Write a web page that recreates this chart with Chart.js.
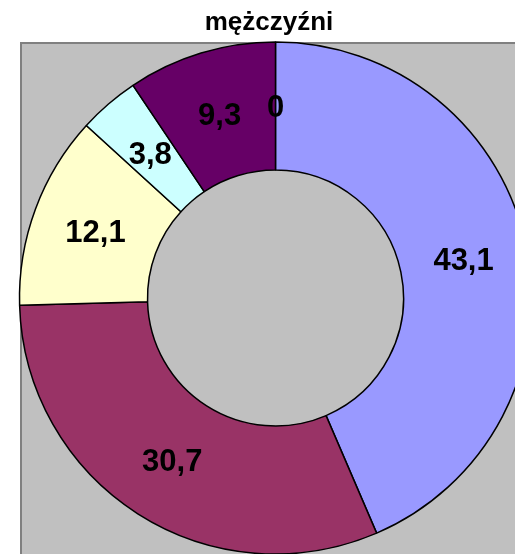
<!DOCTYPE html>
<html><head><meta charset="utf-8">
<script src="https://cdn.jsdelivr.net/npm/chart.js@4"></script>
<style>html,body{margin:0;padding:0;background:#fff;overflow:hidden}canvas{display:block}</style>
</head><body>
<canvas id="c" width="515" height="554"></canvas>
<script>
const chartTitle = 'mężczyźni';
const categories = ['kategoria 1', 'kategoria 2', 'kategoria 3', 'kategoria 4', 'kategoria 5', 'kategoria 6'];
const values = [43.1, 30.7, 12.1, 3.8, 9.3, 0];
const valueLabels = ['43,1', '30,7', '12,1', '3,8', '9,3', '0'];
const colors = ['#9999FF', '#993366', '#FFFFCC', '#CCFFFF', '#660066', '#FF8080'];

const FONT = '"Liberation Sans", Arial, sans-serif';

const bgPlugin = {
  id: 'bg',
  beforeDraw(chart) {
    const ctx = chart.ctx;
    ctx.save();
    ctx.fillStyle = '#ffffff';
    ctx.fillRect(0, 0, chart.width, chart.height);
    ctx.fillStyle = '#C0C0C0';
    ctx.fillRect(20, 42, chart.width, chart.height);
    ctx.strokeStyle = '#808080';
    ctx.lineWidth = 2;
    ctx.beginPath();
    ctx.moveTo(21, chart.height + 2);
    ctx.lineTo(21, 43);
    ctx.lineTo(chart.width + 2, 43);
    ctx.stroke();
    ctx.fillStyle = '#000';
    ctx.font = 'bold 26px ' + FONT;
    ctx.textAlign = 'center';
    ctx.textBaseline = 'alphabetic';
    ctx.fillText(chartTitle, 269, 30);
    ctx.restore();
  }
};

const labelPlugin = {
  id: 'vlabels',
  afterDatasetsDraw(chart) {
    const ctx = chart.ctx;
    const meta = chart.getDatasetMeta(0);
    const fs = 31;
    ctx.save();
    ctx.font = 'bold ' + fs + 'px ' + FONT;
    ctx.fillStyle = '#000';
    ctx.textAlign = 'center';
    ctx.textBaseline = 'alphabetic';
    meta.data.forEach((arc, i) => {
      const p = arc.getProps(['x', 'y', 'startAngle', 'endAngle', 'innerRadius', 'outerRadius'], true);
      const mid = (p.startAngle + p.endAngle) / 2;
      const r = (p.innerRadius + p.outerRadius) / 2;
      const x = p.x + r * Math.cos(mid);
      const y = p.y + r * Math.sin(mid);
      ctx.fillText(valueLabels[i], x, y + 0.358 * fs);
    });
    ctx.restore();
  }
};

new Chart(document.getElementById('c'), {
  type: 'doughnut',
  data: {
    labels: categories,
    datasets: [{
      data: values,
      backgroundColor: colors,
      borderColor: '#000000',
      borderWidth: 1.5,
      radius: 256,
      cutout: '50%'
    }]
  },
  options: {
    responsive: false,
    animation: false,
    events: [],
    radius: 256,
    cutout: '50%',
    layout: { padding: { left: 36, right: 0, top: 42, bottom: 0 } },
    plugins: {
      legend: { display: false },
      title: { display: false },
      tooltip: { enabled: false }
    }
  },
  plugins: [bgPlugin, labelPlugin]
});
</script>
</body></html>
